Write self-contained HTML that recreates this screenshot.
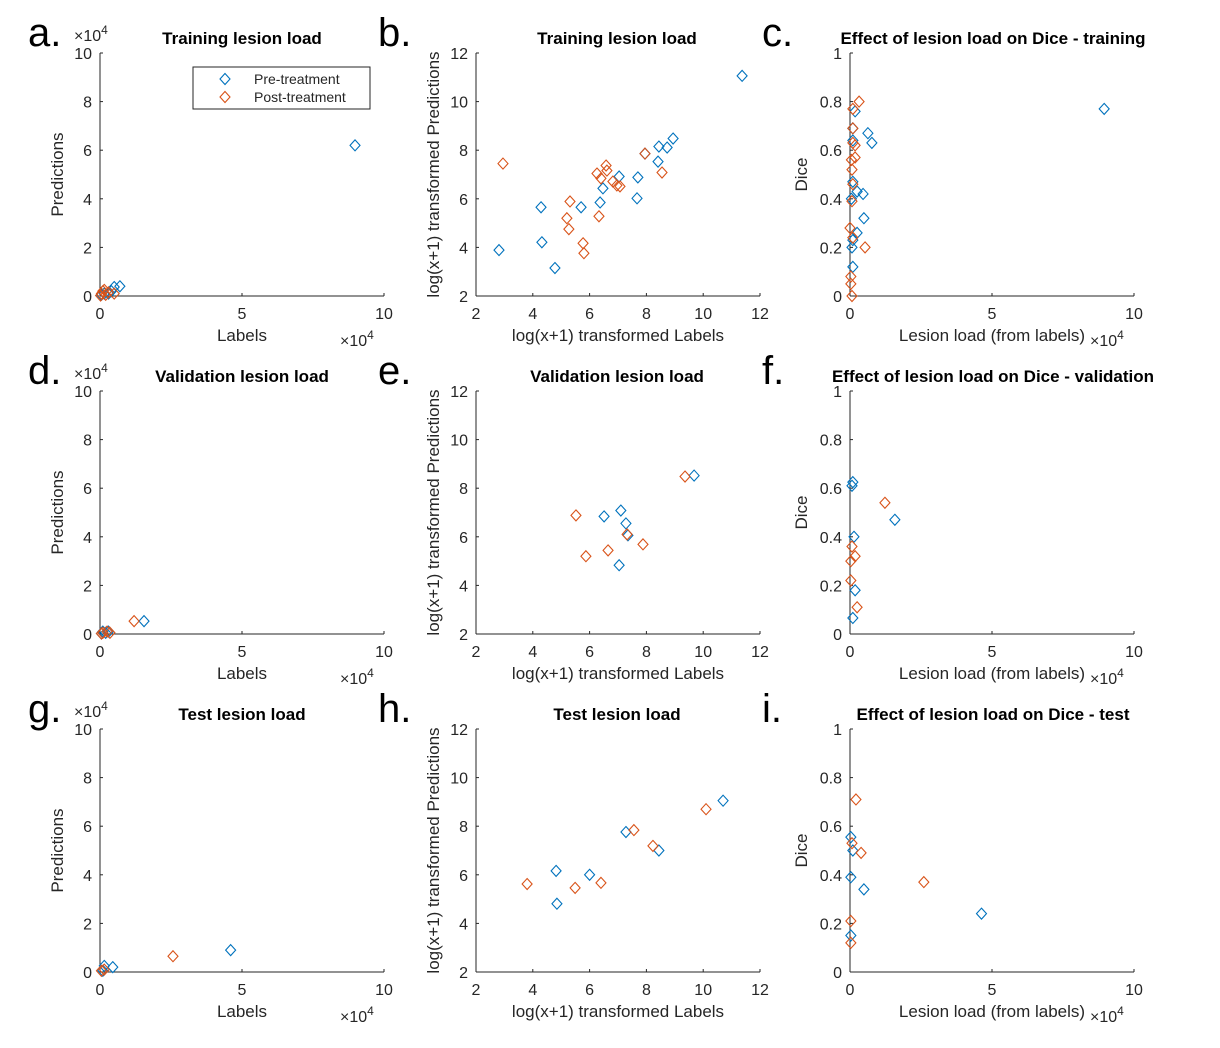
<!DOCTYPE html>
<html><head><meta charset="utf-8">
<style>
body{margin:0;background:#fff;}
svg{display:block;font-family:"Liberation Sans",sans-serif;}
.tk{font-size:16px;fill:#262626;}
.ttl{font-size:17px;font-weight:bold;fill:#000;}
.lab{font-size:17px;fill:#262626;}
.let{font-size:40px;fill:#000;}
</style></head>
<body>
<svg id="s" width="1220" height="1048"></svg>
<script>
// ---- data ----
const aPreX=[8.98,0.7,0.5,0.3,0.05,0.4,0.15];
const aPreY=[6.2,0.4,0.37,0.1,0.05,0.2,0.1];
const aPostX=[0.05,0.1,0.2,0.3,0.5,0.02,0.15];
const aPostY=[0.1,0.2,0.05,0.15,0.1,0.02,0.25];
const bPreX=[2.81,4.29,4.32,4.78,5.70,6.37,6.47,7.04,7.70,7.67,8.41,8.44,8.73,8.94,11.37,7.95];
const bPreY=[3.89,5.65,4.21,3.15,5.65,5.85,6.43,6.92,6.88,6.02,7.53,8.15,8.11,8.48,11.06,7.86];
const bPostX=[2.95,5.31,5.20,5.27,5.77,5.80,6.33,6.26,6.40,6.58,6.61,6.82,6.96,7.07,7.95,8.55];
const bPostY=[7.45,5.89,5.20,4.75,4.17,3.76,5.28,7.04,6.84,7.37,7.16,6.71,6.55,6.51,7.86,7.08];
const cPreX=[0.18,0.63,0.77,0.1,0.1,0.1,0.46,0.25,0.49,0.25,0.1,0.07,0.1,0.05,8.95];
const cPreY=[0.76,0.67,0.63,0.64,0.69,0.47,0.42,0.43,0.32,0.26,0.23,0.20,0.12,0.40,0.77];
const cPostX=[0.32,0.1,0.1,0.18,0.1,0.18,0.05,0.07,0.1,0.07,0.0,0.1,0.53,0.03,0.03,0.07];
const cPostY=[0.80,0.77,0.69,0.62,0.63,0.57,0.56,0.52,0.46,0.39,0.28,0.24,0.20,0.08,0.05,0.0];
const dPreX=[1.55,0.1,0.2,0.05,0.3];
const dPreY=[0.53,0.1,0.05,0.02,0.1];
const dPostX=[1.2,0.1,0.25,0.05,0.35];
const dPostY=[0.53,0.05,0.1,0.02,0.05];
const ePreX=[9.68,6.51,7.1,7.28,7.35,7.04];
const ePreY=[8.52,6.84,7.08,6.55,6.06,4.83];
const ePostX=[9.36,5.52,5.87,6.65,7.32,7.88];
const ePostY=[8.48,6.88,5.2,5.44,6.1,5.69];
const fPreX=[0.1,0.07,0.14,1.58,0.18,0.1];
const fPreY=[0.625,0.61,0.40,0.47,0.18,0.066];
const fPostX=[1.23,0.07,0.18,0.03,0.03,0.25];
const fPostY=[0.54,0.36,0.32,0.30,0.22,0.11];
const gPreX=[4.6,0.45,0.15,0.1];
const gPreY=[0.9,0.2,0.25,0.05];
const gPostX=[2.57,0.05,0.15];
const gPostY=[0.65,0.05,0.1];
const hPreX=[10.7,8.44,7.28,6.0,4.82,4.85];
const hPreY=[9.05,7.0,7.76,6.0,6.16,4.81];
const hPostX=[10.1,7.56,8.23,6.4,5.49,3.8];
const hPostY=[8.7,7.84,7.19,5.67,5.46,5.62];
const iPreX=[0.03,0.1,0.03,0.49,0.03,4.63];
const iPreY=[0.555,0.5,0.39,0.34,0.15,0.24];
const iPostX=[0.21,0.07,0.39,2.6,0.03,0.03];
const iPostY=[0.71,0.53,0.49,0.37,0.21,0.12];
const ticksLoad=[0,2,4,6,8,10];
const ticksLoadX=[0,5,10];
const ticksLog=[2,4,6,8,10,12];
const ticksDice=[0,0.2,0.4,0.6,0.8,1];
const ticksDiceLbl=["0","0.2","0.4","0.6","0.8","1"];

const NS="http://www.w3.org/2000/svg";
const svg=document.getElementById('s');
function mk(t,a,p){const e=document.createElementNS(NS,t);for(const k in a)e.setAttribute(k,a[k]);(p||svg).appendChild(e);return e;}
function txt(x,y,s,cls,anchor,rot){const e=mk('text',{x:x,y:y,class:cls,'text-anchor':anchor||'middle'});if(rot)e.setAttribute('transform','rotate(-90 '+x+' '+y+')');e.textContent=s;return e;}

const colX=[100,476,850], rowY=[296,634,972], W=284, H=243;
const cols=[{xmin:0,xmax:10,ymin:0,ymax:10,xt:ticksLoadX,yt:ticksLoad,ytl:null,ylab:'Predictions',xlab:'Labels',exp:true},
 {xmin:2,xmax:12,ymin:2,ymax:12,xt:ticksLog,yt:ticksLog,ytl:null,ylab:'log(x+1) transformed Predictions',xlab:'log(x+1) transformed Labels',exp:false},
 {xmin:0,xmax:10,ymin:0,ymax:1,xt:ticksLoadX,yt:ticksDice,ytl:ticksDiceLbl,ylab:'Dice',xlab:'Lesion load (from labels)',exp:'x'}];
const titles=[['Training lesion load','Training lesion load','Effect of lesion load on Dice - training'],
 ['Validation lesion load','Validation lesion load','Effect of lesion load on Dice - validation'],
 ['Test lesion load','Test lesion load','Effect of lesion load on Dice - test']];
const data=[[[aPreX,aPreY,aPostX,aPostY],[bPreX,bPreY,bPostX,bPostY],[cPreX,cPreY,cPostX,cPostY]],
 [[dPreX,dPreY,dPostX,dPostY],[ePreX,ePreY,ePostX,ePostY],[fPreX,fPreY,fPostX,fPostY]],
 [[gPreX,gPreY,gPostX,gPostY],[hPreX,hPreY,hPostX,hPostY],[iPreX,iPreY,iPostX,iPostY]]];
const letters=[['a.','b.','c.'],['d.','e.','f.'],['g.','h.','i.']];
const letX=[28,378,762];
const titleX=[242,617,993];

for(let r=0;r<3;r++)for(let c=0;c<3;c++){
  const C=cols[c], x0=colX[c], y0=rowY[r];
  const g=mk('g',{});
  
  
  const sx=v=>x0+(v-C.xmin)/(C.xmax-C.xmin)*W;
  const sy=v=>y0-(v-C.ymin)/(C.ymax-C.ymin)*H;
  mk('line',{x1:x0,y1:y0,x2:x0+W,y2:y0,stroke:'#262626','stroke-width':1},g);
  mk('line',{x1:x0,y1:y0,x2:x0,y2:y0-H,stroke:'#262626','stroke-width':1},g);
  C.xt.forEach(v=>{mk('line',{x1:sx(v),y1:y0,x2:sx(v),y2:y0-3,stroke:'#262626'},g);const t=txt(sx(v),y0+23,String(v),'tk');g.appendChild(t);});
  C.yt.forEach((v,i)=>{mk('line',{x1:x0,y1:sy(v),x2:x0+3,y2:sy(v),stroke:'#262626'},g);const t=txt(x0-8,sy(v)+6,C.ytl?C.ytl[i]:String(v),'tk','end');g.appendChild(t);});
  const xl=txt(x0+W/2,y0+45,C.xlab,'lab');
  const ylx=c==0?63:(c==1?439:807);
  const yl=txt(ylx,y0-H/2,C.ylab,'lab','middle',true);
  if(C.exp){
    const e1=mk('text',{x:x0+W-44,y:y0+50,class:'tk'});e1.innerHTML='×10<tspan dy="-7" font-size="12">4</tspan>';
    if(C.exp===true){const e2=mk('text',{x:x0-26,y:y0-H-12,class:'tk'});e2.innerHTML='×10<tspan dy="-7" font-size="12">4</tspan>';}
  }
  const tt=txt(titleX[c],y0-H-9,titles[r][c],'ttl');
  const lt=txt(letX[c],y0-H-7,letters[r][c],'let','start');
  const D=data[r][c];
  [[D[0],D[1],'#0072BD'],[D[2],D[3],'#D95319']].forEach(([xs,ys,col])=>{
    xs.forEach((xv,i)=>{const px=sx(xv),py=sy(ys[i]);
      const p=mk('polygon',{points:`${px},${py-5.5} ${px+5},${py} ${px},${py+5.5} ${px-5},${py}`,fill:'none',stroke:col,'stroke-width':1.1},g);
      
      
    });
  });
}
// legend
const lg=mk('g',{});


mk('rect',{x:193,y:67,width:177,height:42,fill:'#fff',stroke:'#262626','stroke-width':1},lg);
[['Pre-treatment','#0072BD',79],['Post-treatment','#D95319',97]].forEach(([s,col,y])=>{
  const p=mk('polygon',{points:`225,${y-5.5} 230,${y} 225,${y+5.5} 220,${y}`,fill:'none',stroke:col,'stroke-width':1.1},lg);
  
  
  const t=mk('text',{x:254,y:y+5,class:'tk','font-size':'14px'},lg);t.style.fontSize='14px';t.textContent=s;
  
  
});
</script>
</body></html>
